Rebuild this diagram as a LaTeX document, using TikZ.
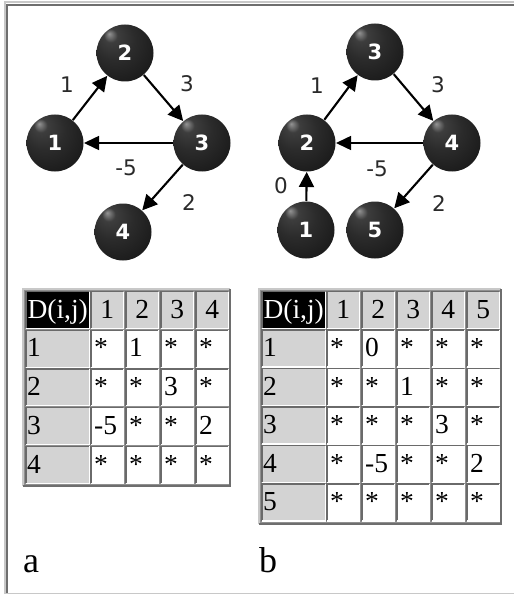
\documentclass[tikz,border=0pt]{standalone}
\usepackage{fontspec}
\setmainfont{Liberation Serif}
\newfontfamily\labelfont{DejaVu Sans}
\usetikzlibrary{arrows.meta}

\definecolor{framelight}{HTML}{C8C8C8}
\definecolor{framedark}{HTML}{6E6E6E}
\definecolor{headgray}{HTML}{D3D3D3}
\definecolor{gapgray}{HTML}{909090}
\definecolor{celldark}{HTML}{6A6A6A}
\definecolor{labelgray}{HTML}{2A2A2A}

% dark sphere with a small highlight at the upper left
\pgfdeclareradialshading{darkball}{\pgfpoint{-14bp}{17bp}}{%
  color(0bp)=(black!42); color(6bp)=(black!76); color(18bp)=(black!83);
  color(36bp)=(black!90); color(50bp)=(black!97); color(60bp)=(black)}

\tikzset{
  ball/.style={circle, minimum size=57pt, inner sep=0pt, outer sep=0.5pt,
    shading=darkball, text=white, font=\labelfont\bfseries\fontsize{21}{21}\selectfont},
  elabel/.style={text=labelgray, inner sep=0pt, font=\labelfont\fontsize{21.5}{21.5}\selectfont},
  edge/.style={-{Triangle[length=15pt,width=15pt]}, line width=2.1pt, black},
  hedge/.style={-{Triangle[length=15pt,width=14pt]}, line width=1.5pt, black},
  cellbase/.style={rectangle, anchor=north west, inner ysep=0pt,
    text height=26.5pt, text depth=10pt, font=\fontsize{27.5}{27.5}\selectfont},
  bodycell/.style={cellbase, fill=white, inner xsep=3pt, text width=26pt, align=left},
  colhead/.style={cellbase, fill=headgray, inner xsep=1pt, text width=30pt, align=center},
  rowhead/.style={cellbase, fill=headgray, inner xsep=1pt, text width=61pt, align=left},
  cornerhead/.style={cellbase, fill=black, text=white, inner xsep=0.5pt, text width=62pt, align=center},
  caption/.style={anchor=base west, inner sep=0pt, font=\fontsize{36}{36}\selectfont},
}

% inset border of one table cell
\newcommand{\cellborder}[1]{%
  \draw[celldark, line width=1.3pt] (#1.south west) -- (#1.north west) -- (#1.north east);
  \draw[white, line width=1.2pt] (#1.north east) -- (#1.south east) -- (#1.south west);}

\begin{document}
\begin{tikzpicture}[x=1pt, y=-1pt]
\useasboundingbox (0,0) rectangle (514,596);
\fill[white] (0,0) rectangle (514,596);

% page frame
\draw[framelight, line width=2pt] (5,594) -- (5,2.5) -- (514,2.5);
\draw[framedark, line width=1.5pt] (7,593) -- (7,5) -- (514,5);
\draw[framelight, line width=1.2pt] (5,593.5) -- (514,593.5);

% ---------- graph a ----------
\node[ball] (a1) at (55,143) {1};
\node[ball] (a2) at (125,53) {2};
\node[ball] (a3) at (202,143) {3};
\node[ball] (a4) at (123,232) {4};
\draw[edge] (a1) -- (a2);
\draw[edge] (a2) -- (a3);
\draw[hedge] (a3) -- (a1);
\draw[edge] (a3) -- (a4);
\node[elabel] (la12) at (67,85) {1};
\node[elabel] (la23) at (187,84) {3};
\node[elabel] (la31) at (126,168) {-5};
\node[elabel] (la34) at (189,203) {2};

% ---------- graph b ----------
\node[ball] (b1) at (306,230) {1};
\node[ball] (b2) at (307,143) {2};
\node[ball] (b3) at (375,52) {3};
\node[ball] (b4) at (452,143) {4};
\node[ball] (b5) at (375,230) {5};
\draw[edge] (b1) -- (b2);
\draw[edge] (b2) -- (b3);
\draw[edge] (b3) -- (b4);
\draw[hedge] (b4) -- (b2);
\draw[edge] (b4) -- (b5);
\node[elabel] (lb12) at (281,186) {0};
\node[elabel] (lb23) at (317,86) {1};
\node[elabel] (lb34) at (438,85) {3};
\node[elabel] (lb42) at (377,169) {-5};
\node[elabel] (lb45) at (439,204) {2};

% ---------- table a ----------
\fill[gapgray] (23,289) rectangle (230,486);
\draw[framelight, line width=2pt] (23,486) -- (23,289) -- (230,289);
\draw[framedark, line width=2pt] (230,289) -- (230,486) -- (23,486);
\node[cornerhead] (ta00) at (26,291.5) {D(i,j)};
\cellborder{ta00}
\foreach \c in {1,...,4} {
  \node[colhead] (ta0\c) at ({91+(\c-1)*35},291.5) {\c};
  \cellborder{ta0\c}
}
\foreach \r/\vals in {1/{*,1,*,*}, 2/{*,*,3,*}, 3/{-5,*,*,2}, 4/{*,*,*,*}} {
  \node[rowhead] (ta\r0) at (26,{291.5+\r*38.7}) {\r};
  \cellborder{ta\r0}
  \foreach \v [count=\c] in \vals {
    \node[bodycell] (ta\r\c) at ({91+(\c-1)*35},{291.5+\r*38.7}) {\v};
    \cellborder{ta\r\c}
  }
}

% ---------- table b ----------
\fill[gapgray] (259,289) rectangle (501,524);
\draw[framelight, line width=2pt] (259,524) -- (259,289) -- (501,289);
\draw[framedark, line width=2pt] (501,289) -- (501,524) -- (259,524);
\node[cornerhead] (tb00) at (262,291.5) {D(i,j)};
\cellborder{tb00}
\foreach \c in {1,...,5} {
  \node[colhead] (tb0\c) at ({327+(\c-1)*35},291.5) {\c};
  \cellborder{tb0\c}
}
\foreach \r/\vals in {1/{*,0,*,*,*}, 2/{*,*,1,*,*}, 3/{*,*,*,3,*}, 4/{*,-5,*,*,2}, 5/{*,*,*,*,*}} {
  \node[rowhead] (tb\r0) at (262,{291.5+\r*38.5}) {\r};
  \cellborder{tb\r0}
  \foreach \v [count=\c] in \vals {
    \node[bodycell] (tb\r\c) at ({327+(\c-1)*35},{291.5+\r*38.5}) {\v};
    \cellborder{tb\r\c}
  }
}

% captions
\node[caption] (capa) at (23,572) {a};
\node[caption] (capb) at (259,572) {b};
\end{tikzpicture}
\end{document}
